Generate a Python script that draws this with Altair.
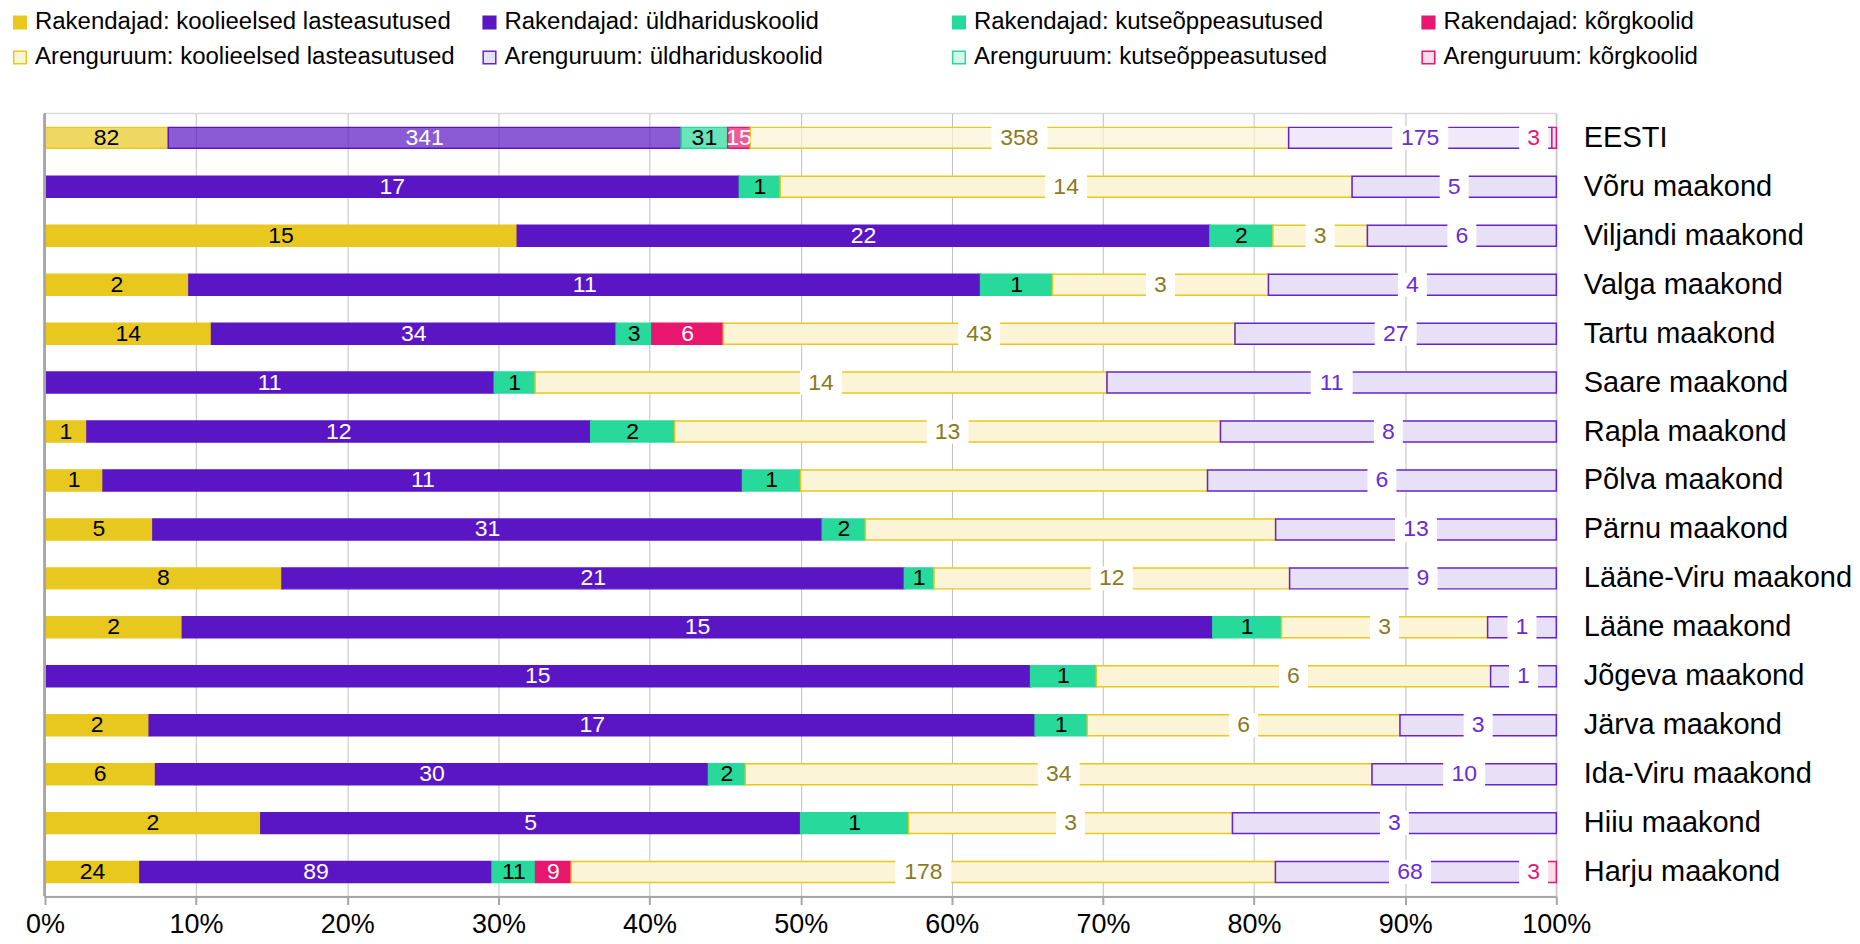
import json
import altair as alt
import pandas as pd

regions = ["EESTI", "Võru maakond", "Viljandi maakond", "Valga maakond", "Tartu maakond",
           "Saare maakond", "Rapla maakond", "Põlva maakond", "Pärnu maakond",
           "Lääne-Viru maakond", "Lääne maakond", "Jõgeva maakond", "Järva maakond",
           "Ida-Viru maakond", "Hiiu maakond", "Harju maakond"]

series = ["Rakendajad: koolieelsed lasteasutused", "Rakendajad: üldhariduskoolid",
          "Rakendajad: kutseõppeasutused", "Rakendajad: kõrgkoolid",
          "Arenguruum: koolieelsed lasteasutused", "Arenguruum: üldhariduskoolid",
          "Arenguruum: kutseõppeasutused", "Arenguruum: kõrgkoolid"]

rk_lasteasutused = [82, 0, 15, 2, 14, 0, 1, 1, 5, 8, 2, 0, 2, 6, 2, 24]
rk_yldhariduskoolid = [341, 17, 22, 11, 34, 11, 12, 11, 31, 21, 15, 15, 17, 30, 5, 89]
rk_kutseoppeasutused = [31, 1, 2, 1, 3, 1, 2, 1, 2, 1, 1, 1, 1, 2, 1, 11]
rk_korgkoolid = [15, 0, 0, 0, 6, 0, 0, 0, 0, 0, 0, 0, 0, 0, 0, 9]
ar_lasteasutused = [358, 14, 3, 3, 43, 14, 13, 7, 19, 12, 3, 6, 6, 34, 3, 178]
ar_yldhariduskoolid = [175, 5, 6, 4, 27, 11, 8, 6, 13, 9, 1, 1, 3, 10, 3, 68]
ar_kutseoppeasutused = [0, 0, 0, 0, 0, 0, 0, 0, 0, 0, 0, 0, 0, 0, 0, 0]
ar_korgkoolid = [3, 0, 0, 0, 0, 0, 0, 0, 0, 0, 0, 0, 0, 0, 0, 3]

# labels not shown in the original
hidden_labels = [("Põlva maakond", "Arenguruum: koolieelsed lasteasutused"),
                 ("Pärnu maakond", "Arenguruum: koolieelsed lasteasutused")]

fill_colors = ["#E8C81E", "#5A16C4", "#27D99B", "#E8166E",
               "#FBF4D6", "#E8E0F7", "#D8F7EB", "#FCDDE9"]
stroke_colors = ["#E8C81E", "#5A16C4", "#27D99B", "#E8166E",
                 "#E8C81E", "#6424D2", "#27D99B", "#E8166E"]
label_colors = ["#000000", "#FFFFFF", "#000000", "#FFFFFF",
                "#8C7A1E", "#6A2BD8", "#1FAF7D", "#E8166E"]

all_values = [rk_lasteasutused, rk_yldhariduskoolid, rk_kutseoppeasutused, rk_korgkoolid,
              ar_lasteasutused, ar_yldhariduskoolid, ar_kutseoppeasutused, ar_korgkoolid]

rows = []
for si, (s, vals) in enumerate(zip(series, all_values)):
    for r, v in zip(regions, vals):
        rows.append({"region": r, "series": s, "order": si, "value": v,
                     "show": bool(v > 0 and (r, s) not in hidden_labels)})
df = pd.DataFrame(rows)

FONT = "Liberation Sans"

base = (
    alt.Chart(df)
    .transform_stack(stack="value", groupby=["region"], sort=[alt.SortField("order")],
                     offset="normalize", as_=["x0", "x1"])
    .transform_calculate(
        labx="min((datum.x0 + datum.x1) / 2, 0.985)",
        label="toString(datum.value)",
        nd="length(toString(datum.value))",
        lblcol=f"{json.dumps(label_colors)}[datum.order]",
    )
)

y_enc = alt.Y("region:N", sort=regions, title=None,
              axis=alt.Axis(orient="right", labelAlign="left", labelPadding=27,
                            domain=False, ticks=False, grid=False,
                            labelFontSize=29, labelFont=FONT, labelColor="#000000",
                            labelLimit=400))
x_scale = alt.Scale(domain=[0, 1], nice=False)
x_axis = alt.Axis(format=".0%", values=[i / 10 for i in range(11)], title=None,
                  grid=True, gridColor="#BFBFBF", gridWidth=1,
                  domainColor="#A6A6A6", domainWidth=2, tickColor="#A6A6A6",
                  tickSize=8, tickWidth=2, labelFontSize=27, labelFont=FONT,
                  labelColor="#000000", labelPadding=7, labelFlush=False)

bars = base.transform_filter("datum.value > 0").mark_bar(size=21, strokeWidth=1.5).encode(
    x=alt.X("x0:Q", scale=x_scale, axis=x_axis),
    x2="x1:Q",
    y=y_enc,
    fill=alt.Fill("series:N", scale=alt.Scale(domain=series, range=fill_colors), title=None),
    stroke=alt.Stroke("series:N", scale=alt.Scale(domain=series, range=stroke_colors), title=None),
    fillOpacity=alt.condition(alt.datum.region == "EESTI", alt.value(0.7), alt.value(1.0)),
)

left_line = alt.Chart(df).mark_rule(color="#A6A6A6", strokeWidth=2).encode(x=alt.datum(0))

boxes = []
for nd, w in [(1, 29), (2, 42), (3, 56)]:
    boxes.append(
        base.transform_filter(f"datum.show && datum.order >= 4 && datum.nd == {nd}")
        .mark_tick(color="white", opacity=1, size=24, thickness=w)
        .encode(x=alt.X("labx:Q", scale=x_scale, axis=x_axis), y=y_enc)
    )

texts = base.transform_filter("datum.show").mark_text(
    fontSize=23, font=FONT, baseline="middle", align="center"
).encode(
    x=alt.X("labx:Q", scale=x_scale, axis=x_axis),
    y=y_enc,
    text="label:N",
    color=alt.Color("lblcol:N", scale=None),
)

chart = (
    alt.layer(bars, left_line, *boxes, texts)
    .properties(width=1513, height=784,
                padding={"left": 0, "top": 2, "right": 0, "bottom": 0})
    .configure_view(stroke="#D9D9D9", strokeWidth=1.5)
    .configure_legend(orient="none", legendX=-37, legendY=-103, columns=4,
                      direction="horizontal",
                      gridAlign="all", columnPadding=22, rowPadding=11,
                      symbolType="square", symbolSize=160, symbolStrokeWidth=1.5,
                      labelFontSize=24, labelFont=FONT, labelColor="#000000",
                      labelLimit=600, labelOffset=3, padding=0)
)

chart.save("out.html", embed_options={"renderer": "svg", "actions": False})
